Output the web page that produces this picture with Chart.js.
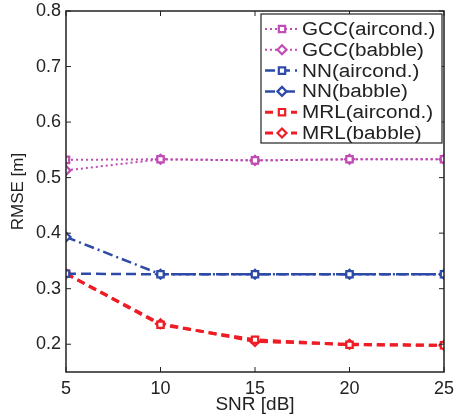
<!DOCTYPE html>
<html>
<head>
<meta charset="utf-8">
<script src="https://cdn.jsdelivr.net/npm/chart.js@4.4.0/dist/chart.umd.min.js"></script>
<style>
  html, body { margin: 0; padding: 0; background: #fff; }
  #wrap { width: 456px; height: 416px; }
</style>
</head>
<body>
<div id="wrap"><canvas id="chart" width="456" height="416"></canvas></div>
<script>
// SNR values (x axis)
const snr = [5, 10, 15, 20, 25];
const xTicks = [5, 10, 15, 20, 25];
const yTicks = [0.2, 0.3, 0.4, 0.5, 0.6, 0.7, 0.8];

// RMSE per method / noise type
const gccAircond = [0.532, 0.533, 0.531, 0.533, 0.533];
const gccBabble  = [0.513, 0.533, 0.531, 0.533, 0.533];
const nnAircond  = [0.327, 0.326, 0.326, 0.326, 0.326];
const nnBabble   = [0.393, 0.326, 0.326, 0.326, 0.326];
const mrlAircond = [0.327, 0.235, 0.208, 0.199, 0.198];
const mrlBabble  = [0.327, 0.237, 0.205, 0.200, 0.198];

const labels = ['GCC(aircond.)', 'GCC(babble)', 'NN(aircond.)', 'NN(babble)', 'MRL(aircond.)', 'MRL(babble)'];

const MAG = '#c04cb4', BLUE = '#2e4aa8', RED = '#ee1d25';
const FONT = '"Liberation Sans", Arial, Helvetica, sans-serif';

function pts(arr) { return arr.map((v, i) => ({ x: snr[i], y: v })); }

function ds(label, data, color, dash, width, shape) {
    return {
        label: label,
        data: pts(data),
        borderColor: color,
        backgroundColor: '#ffffff',
        borderWidth: width,
        borderDash: dash,
        pointStyle: shape,
        pointRadius: 4.5,
        pointBorderColor: color,
        pointBackgroundColor: '#ffffff',
        pointBorderWidth: 2.2,
        tension: 0,
        fill: false
    };
}

const datasets = [
    ds(labels[0], gccAircond, MAG, [2, 3], 2, 'rect'),
    ds(labels[1], gccBabble, MAG, [2, 3], 2, 'rectRot'),
    ds(labels[2], nnAircond, BLUE, [10, 5], 2.5, 'rect'),
    ds(labels[3], nnBabble, BLUE, [10, 4, 2, 4], 2.5, 'rectRot'),
    ds(labels[4], mrlAircond, RED, [8, 5], 3, 'rect'),
    ds(labels[5], mrlBabble, RED, [8, 5], 3, 'rectRot')
];

// frame, inward ticks and the legend box
const framePlugin = {
    id: 'frame',
    afterDraw(chart) {
        const ctx = chart.ctx;
        const a = chart.chartArea;
        const xs = chart.scales.x, ys = chart.scales.y;
        ctx.save();
        ctx.strokeStyle = '#222';
        ctx.lineWidth = 1.5;
        ctx.strokeRect(a.left, a.top, a.right - a.left, a.bottom - a.top);
        ctx.lineWidth = 1;
        const tl = 5;
        xTicks.forEach(v => {
            const px = xs.getPixelForValue(v);
            ctx.beginPath();
            ctx.moveTo(px, a.bottom); ctx.lineTo(px, a.bottom - tl);
            ctx.moveTo(px, a.top); ctx.lineTo(px, a.top + tl);
            ctx.stroke();
        });
        yTicks.forEach(v => {
            const py = ys.getPixelForValue(v);
            ctx.beginPath();
            ctx.moveTo(a.left, py); ctx.lineTo(a.left + tl, py);
            ctx.moveTo(a.right, py); ctx.lineTo(a.right - tl, py);
            ctx.stroke();
        });

        // legend
        const lx = 261, ly = 14, lw = 181, lh = 129;
        ctx.fillStyle = '#fff';
        ctx.fillRect(lx, ly, lw, lh);
        ctx.strokeStyle = '#222';
        ctx.lineWidth = 1.2;
        ctx.strokeRect(lx, ly, lw, lh);
        ctx.font = '18px ' + FONT;
        ctx.textBaseline = 'middle';
        const rowH = 20.8;
        datasets.forEach((d, i) => {
            const cy = ly + 15 + i * rowH;
            ctx.strokeStyle = d.borderColor;
            ctx.lineWidth = d.borderWidth;
            ctx.setLineDash(d.borderDash);
            ctx.beginPath();
            ctx.moveTo(lx + 4, cy); ctx.lineTo(lx + 36, cy);
            ctx.stroke();
            ctx.setLineDash([]);
            ctx.lineWidth = 2.2;
            ctx.fillStyle = '#fff';
            Chart.helpers.drawPoint(ctx, { pointStyle: d.pointStyle, radius: 4.5, rotation: 0, borderWidth: 2.2 }, lx + 21, cy);
            ctx.fillStyle = '#222';
            ctx.save();
            ctx.translate(lx + 41, cy + 1);
            ctx.scale(1.15, 1);
            ctx.fillText(d.label, 0, 0);
            ctx.restore();
        });
        ctx.restore();
    }
};

new Chart(document.getElementById('chart'), {
    type: 'line',
    data: { datasets: datasets },
    options: {
        responsive: false,
        animation: false,
        layout: { padding: { top: 11, right: 12, left: 0, bottom: 0 } },
        plugins: { legend: { display: false }, tooltip: { enabled: false } },
        scales: {
            x: {
                type: 'linear',
                min: 5, max: 25,
                afterBuildTicks: s => { s.ticks = xTicks.map(v => ({ value: v })); },
                afterFit: s => { s.height = 44; s.paddingLeft = 0; s.paddingRight = 0; },
                grid: { display: false, drawTicks: false },
                border: { display: false },
                ticks: { color: '#222', font: { size: 18, family: FONT }, padding: 6 },
                title: { display: true, text: 'SNR [dB]', color: '#222', font: { size: 19, family: FONT }, padding: { top: 0, bottom: 0 } }
            },
            y: {
                type: 'linear',
                min: 0.15, max: 0.8,
                afterBuildTicks: s => { s.ticks = yTicks.map(v => ({ value: v })); },
                afterFit: s => { s.width = 66; s.paddingTop = 0; s.paddingBottom = 0; },
                grid: { display: false, drawTicks: false },
                border: { display: false },
                ticks: { color: '#222', font: { size: 18, family: FONT }, padding: 5, callback: v => v.toFixed(1) },
                title: { display: true, text: 'RMSE [m]', color: '#222', font: { size: 17, family: FONT }, padding: { top: 8, bottom: 2 } }
            }
        }
    },
    plugins: [framePlugin]
});
</script>
</body>
</html>
